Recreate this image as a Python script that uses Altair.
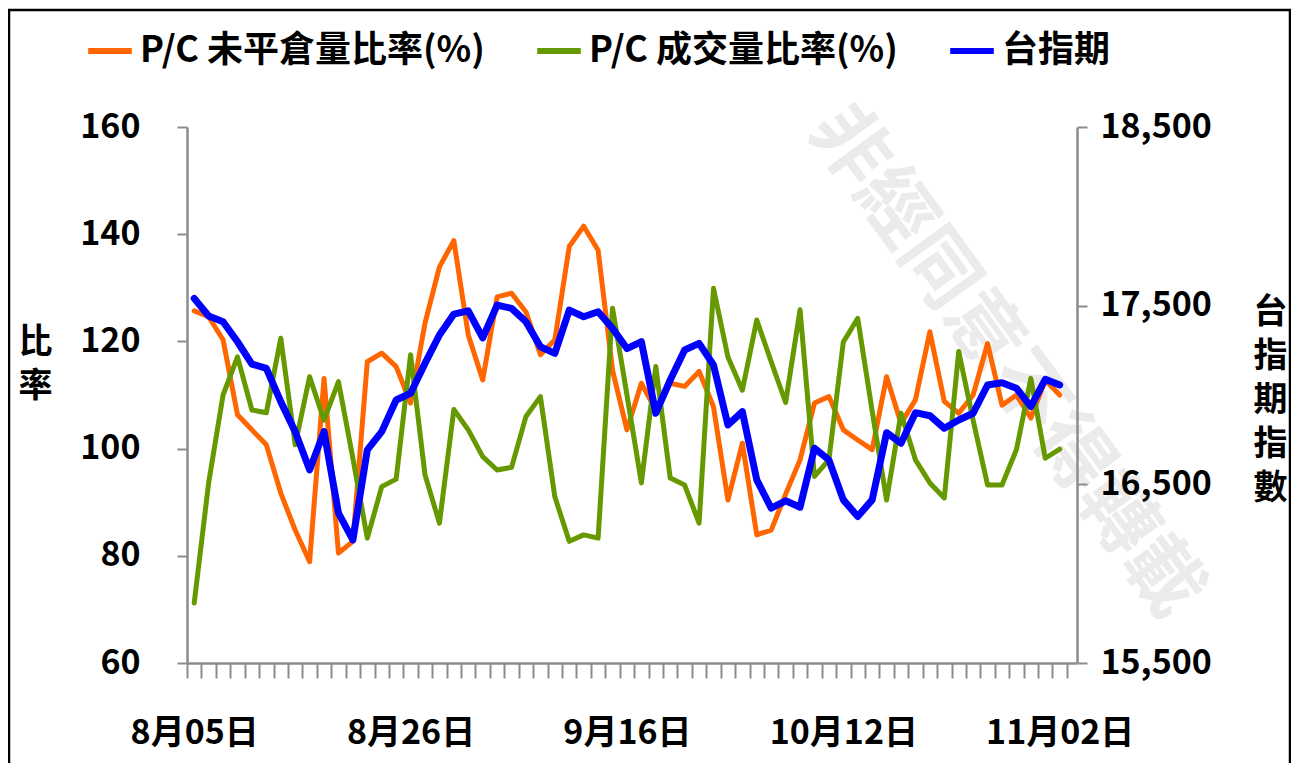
import altair as alt
import pandas as pd

# ---- data ----
idx = list(range(61))  # trading-day index

oi_ratio = [125.7, 124.6, 120.3, 106.3, 103.5, 100.7, 91.7, 84.8, 78.9, 113.1,
            80.5, 82.7, 116.2, 117.8, 115.3, 108.5, 123.4, 133.9, 138.8, 121.2,
            112.8, 128.3, 129.0, 125.5, 117.5, 120.3, 137.7, 141.5, 137.0, 114.6,
            103.5, 112.2, 107.2, 112.2, 111.6, 114.4, 107.8, 90.4, 101.0, 83.9,
            84.8, 91.5, 97.9, 108.5, 109.7, 103.5, 101.6, 99.8, 113.4, 104.7,
            109.1, 121.8, 108.8, 106.6, 110.0, 119.6, 108.1, 110.0, 105.7, 112.8,
            110.0]

vol_ratio = [71.2, 93.6, 110.0, 117.1, 107.2, 106.7, 120.6, 100.7, 113.4, 105.3,
             112.5, 98.2, 83.3, 92.9, 94.3, 117.5, 95.1, 86.1, 107.3, 103.5,
             98.5, 96.0, 96.5, 106.0, 109.7, 91.0, 82.7, 83.9, 83.3, 126.2,
             110.0, 93.6, 115.3, 94.5, 93.2, 86.1, 129.9, 117.1, 110.9, 124.0,
             116.2, 108.6, 125.9, 94.8, 97.9, 119.9, 124.3, 107.0, 90.4, 106.6,
             97.9, 93.6, 90.8, 118.1, 105.3, 93.2, 93.2, 99.8, 113.1, 98.2,
             99.9]

tx_index = [17541, 17442, 17410, 17298, 17173, 17149, 16963, 16795, 16581, 16795,
            16339, 16189, 16693, 16795, 16972, 17010, 17177, 17336, 17453, 17471,
            17320, 17503, 17485, 17410, 17270, 17233, 17475, 17438, 17466, 17373,
            17260, 17298, 16898, 17084, 17252, 17289, 17168, 16832, 16907, 16525,
            16367, 16408, 16372, 16702, 16637, 16413, 16320, 16413, 16789, 16730,
            16901, 16884, 16814, 16860, 16898, 17056, 17069, 17038, 16935, 17088,
            17056]

label_pos = [0, 15, 30, 45, 60]
label_txt = ["8月05日", "8月26日", "9月16日", "10月12日", "11月02日"]

names = ["P/C 未平倉量比率(%)", "P/C 成交量比率(%)", "台指期"]
colors = ["#FF6600", "#669900", "#0000FF"]

left_ticks = [60, 80, 100, 120, 140, 160]
right_ticks = [15500, 16500, 17500, 18500]
watermark = "非經同意不得轉載"

FONT = "Noto Sans CJK TC"

ratio_df = pd.DataFrame({
    "i": idx + idx,
    "series": [names[0]] * len(idx) + [names[1]] * len(idx),
    "v": oi_ratio + vol_ratio,
})
tx_df = pd.DataFrame({"i": idx, "series": [names[2]] * len(idx), "v": tx_index})

tick_vals = [k - 0.5 for k in range(len(idx) + 1)] + label_pos
pos_js = "[" + ",".join(str(p) for p in label_pos) + "]"
txt_js = "[" + ",".join("'" + t + "'" for t in label_txt) + "]"
label_expr = f"indexof({pos_js}, datum.value) >= 0 ? {txt_js}[indexof({pos_js}, datum.value)] : ''"

x_enc = alt.X(
    "i:Q",
    scale=alt.Scale(domain=[-0.5, 61.2], nice=False, zero=False),
    axis=alt.Axis(
        values=tick_vals, labelExpr=label_expr, title=None, grid=False,
        tickSize=15, labelPadding=38, labelOverlap=False, labelFlush=False,
        labelFontSize=34, labelBaseline="top",
        tickOpacity={"condition": {"test": "datum.value % 1 == 0", "value": 0}, "value": 1},
    ),
)

color_enc = alt.Color(
    "series:N",
    scale=alt.Scale(domain=names, range=colors),
    legend=alt.Legend(
        orient="none", legendX=-102, legendY=-101, direction="horizontal", columns=3,
        title=None, symbolType="stroke", symbolStrokeWidth=6, symbolSize=1900,
        labelFontSize=36, labelFont=FONT, labelFontWeight="bold", labelColor="black",
        columnPadding=40, labelLimit=800, labelOffset=5,
    ),
)

left = alt.Chart(ratio_df).mark_line(strokeWidth=5, strokeJoin="round", strokeCap="round").encode(
    x=x_enc,
    y=alt.Y(
        "v:Q",
        scale=alt.Scale(domain=[60, 160], nice=False, zero=False),
        axis=alt.Axis(
            orient="left", values=left_ticks, grid=False, tickSize=10, labelPadding=37,
            labelFontSize=34, title=["比", "率"], titleAngle=0, titleX=-152, titleY=198,
            titleAlign="center", titleBaseline="top", titleFontSize=34, titleLineHeight=44,
        ),
    ),
    color=color_enc,
)

right = alt.Chart(tx_df).mark_line(strokeWidth=7, strokeJoin="round", strokeCap="round").encode(
    x=x_enc,
    y=alt.Y(
        "v:Q",
        scale=alt.Scale(domain=[15500, 18500], nice=False, zero=False),
        axis=alt.Axis(
            orient="right", values=right_ticks, labelExpr="format(datum.value, ',')",
            grid=False, tickSize=10, labelPadding=13, labelFontSize=34, zindex=1,
            title=["台", "指", "期", "指", "數"], titleAngle=0, titleX=193, titleY=168,
            titleAlign="center", titleBaseline="top", titleFontSize=34, titleLineHeight=44,
        ),
    ),
    color=color_enc,
)

wm = alt.Chart(pd.DataFrame({"t": [watermark]})).mark_text(
    angle=54, fontSize=76, color="#ebebeb", font=FONT, fontWeight="bold",
    align="center", baseline="middle",
).encode(x=alt.value(818), y=alt.value(235), text="t:N")

border = alt.Chart(pd.DataFrame({"a": [0]})).mark_rect(
    fillOpacity=0, stroke="black", strokeWidth=2.5
).encode(x=alt.value(-178), x2=alt.value(1103), y=alt.value(-117), y2=alt.value(700))

chart = alt.layer(wm, border, left, right).resolve_scale(y="independent").properties(
    width=890, height=536,
    autosize=alt.AutoSizeParams(type="none"),
    padding={"left": 179, "top": 119, "right": 214, "bottom": 100},
).configure_view(stroke=None).configure_axis(
    domainColor="#8c8c8c", domainWidth=2.5, tickColor="#8c8c8c", tickWidth=2,
    labelFont=FONT, titleFont=FONT, labelColor="black", titleColor="black",
    labelFontWeight="bold", titleFontWeight="bold",
)

chart.save("out.html", embed_options={"renderer": "svg", "actions": False})
